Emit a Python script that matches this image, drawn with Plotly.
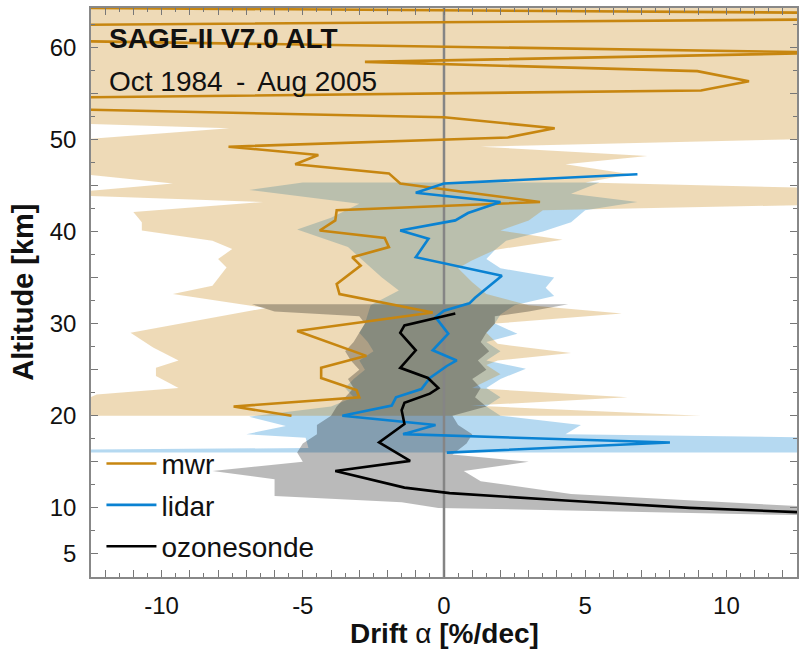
import plotly.graph_objects as go

# ---------------- data ----------------
# microwave radiometer (mwr) mean drift profile
ALT_MWR = [20.0, 21.0, 22.0, 22.8, 24.1, 25.2, 26.5, 29.2, 31.2, 33.2, 34.3, 36.3, 37.2,
           38.3, 39.3, 40.1, 41.2, 42.3, 43.2, 45.2, 46.3, 47.3, 48.3, 49.2, 50.2, 51.2,
           52.4, 53.3, 54.3, 55.3, 56.3, 57.4, 58.4, 59.4, 60.7, 61.6, 62.4, 63.0, 63.5, 64.5]
MWR = [-5.4, -7.45, -3.0, -3.1, -4.35, -4.35, -2.75, -5.2, -0.4, -3.7, -3.8, -2.95, -3.25,
       -1.95, -2.1, -4.4, -3.85, -3.8, 3.4, -1.55, -1.95, -5.27, -4.45, -7.63, 2.26, 3.92,
       0.0, -14.0, -20.0, 9.1, 10.8, 8.97, -2.8, 14.0, -14.0, -30.0, -14.0, 13.0, 25.0, -25.0]

ALT_MWR_LO = [20.0, 22.3, 23.0, 24.3, 25.2, 26.0, 27.4, 29.0, 31.7, 33.2, 34.1, 36.1, 37.0,
              38.1, 39.0, 40.1, 41.0, 42.1, 43.2, 44.0, 45.2, 46.6, 49.7, 51.2, 51.8, 65.0]
MWR_LO = [-14.0, -12.3, -9.4, -10.2, -10.2, -9.4, -10.3, -11.1, -6.3, -9.6, -8.2, -7.7, -8.0,
          -7.5, -8.2, -10.7, -10.7, -11.0, -6.4, -14.0, -9.6, -14.0, -14.0, -7.6, -14.0, -14.0]

ALT_MWR_HI = [20.0, 21.1, 22.0, 23.0, 24.5, 25.5, 26.0, 26.8, 27.8, 29.0, 30.0, 31.1, 32.0,
              33.2, 34.5, 36.0, 36.8, 38.0, 39.1, 40.1, 41.2, 42.3, 43.0, 44.6, 45.3, 46.2,
              47.3, 48.2, 49.2, 50.2, 65.0]
MWR_HI = [9.1, 0.95, 6.5, 1.0, 2.0, 1.5, 1.9, 4.5, 1.9, 1.5, 1.8, 6.3, 3.0,
          1.5, 1.0, 0.5, 0.95, 1.8, 4.2, 2.0, 3.0, 3.5, 15.0, 15.0, 5.0, 6.6,
          4.3, 7.2, 1.3, 15.0, 15.0]

# lidar
ALT_LID = [16.0, 17.1, 18.0, 19.0, 20.0, 21.1, 22.0, 22.9, 24.1, 25.4, 26.0, 27.1, 28.9,
           30.7, 31.4, 32.2, 32.8, 35.2, 37.2, 39.2, 40.1, 41.2, 42.0, 43.2, 44.2, 45.2, 46.2]
LIDAR = [0.1, 8.0, -1.45, -0.3, -3.6, -1.85, -1.7, -0.8, -0.5, 0.1, 0.45, -0.4, 0.15,
         -0.3, 0.0, 0.9, 1.1, 2.05, -1.0, -0.55, -1.55, 0.4, 0.85, 2.0, -1.0, 0.0, 6.85]

ALT_LID_LO = [16.0, 16.3, 16.5, 17.6, 18.0, 18.9, 19.9, 21.0, 22.0, 23.0, 24.0, 25.0, 26.0,
              27.0, 28.0, 29.0, 30.0, 31.0, 32.0, 33.6, 35.0, 37.2, 38.3, 40.2, 41.5, 43.0,
              44.5, 45.3]
LIDAR_LO = [-14.0, -14.0, -4.8, -4.9, -7.0, -5.6, -6.9, -4.0, -3.2, -3.5, -3.2, -2.8, -3.0,
            -2.5, -2.7, -3.0, -2.8, -2.7, -2.6, -1.6, -2.2, -3.0, -3.4, -5.2, -4.0, -3.0,
            -6.9, -5.0]

ALT_LID_HI = [16.0, 17.6, 18.0, 19.0, 20.0, 21.0, 22.0, 23.0, 24.0, 25.1, 26.0, 27.0, 28.0,
              28.9, 30.0, 31.0, 32.0, 33.0, 33.9, 35.0, 36.0, 37.0, 38.0, 39.0, 40.0, 41.0,
              42.3, 43.2, 44.1, 45.3]
LIDAR_HI = [14.0, 14.0, 4.3, 4.85, 2.0, 1.5, 2.0, 1.5, 2.0, 2.9, 1.5, 2.0, 1.5,
            2.6, 1.8, 2.0, 2.5, 3.9, 3.6, 3.9, 2.0, 1.5, 1.8, 2.2, 3.5, 4.5,
            5.0, 6.85, 4.5, 5.5]

# ozonesonde
ALT_SONDE = [9.0, 9.5, 10.0, 10.8, 11.6, 12.2, 14.0, 15.1, 17.1, 19.1, 20.6, 21.4, 22.4,
             23.0, 24.1, 25.2, 27.1, 29.0, 29.8, 31.1]
SONDE = [17.0, 12.5, 8.7, 4.3, 0.2, -1.4, -3.85, -1.2, -2.3, -1.4, -1.5, -1.4, -0.5,
         -0.2, -0.57, -1.55, -1.0, -1.55, -1.4, 0.4]

ALT_SONDE_LO = [9.0, 9.2, 9.7, 10.0, 10.6, 11.3, 13.1, 14.0, 15.0, 16.0, 17.0, 18.0, 19.0,
                20.0, 21.0, 22.0, 23.0, 24.0, 25.0, 26.0, 27.0, 28.0, 29.0, 30.0, 30.8,
                31.3, 32.1]
SONDE_LO = [16.0, 12.5, 4.0, -0.2, -1.5, -6.0, -6.0, -8.2, -5.0, -5.2, -5.0, -4.5, -4.5,
            -4.0, -3.8, -3.5, -3.2, -3.4, -3.0, -3.3, -3.5, -3.2, -3.0, -2.8, -3.0,
            -6.0, -6.8]

ALT_SONDE_HI = [9.0, 10.2, 11.5, 12.9, 14.0, 15.0, 15.8, 17.0, 18.0, 19.0, 20.0, 21.0, 22.0,
                23.0, 24.0, 25.0, 26.0, 27.0, 28.0, 29.0, 30.0, 30.8, 31.3, 32.1]
SONDE_HI = [16.0, 12.5, 4.5, 1.3, 0.7, 3.0, 0.3, 0.8, 1.0, 0.5, 0.3, 1.5, 1.1,
            1.3, 1.0, 1.5, 1.2, 1.6, 1.3, 1.5, 1.8, 1.8, 3.0, 4.4]

X_TICKS = list(range(-12, 13))
X_LABELS = [str(v) if v % 5 == 0 else "" for v in X_TICKS]
Y_TICKS = list(range(5, 65, 5))
Y_LABELS = [str(v) if (v % 10 == 0 or v == 5) else "" for v in Y_TICKS]

# ---------------- styling ----------------
MWR_C = "#C78610"
LID_C = "#0A82D2"
SON_C = "#000000"
FONT = "Liberation Sans, Arial, Helvetica, sans-serif"


def band(alt_lo, lo, alt_hi, hi):
    return list(lo) + list(hi)[::-1], list(alt_lo) + list(alt_hi)[::-1]


fig = go.Figure()

# lidar band under the mwr band, ozonesonde band on top
for (alo, lo, ahi, hi, col) in [
    (ALT_LID_LO, LIDAR_LO, ALT_LID_HI, LIDAR_HI, "rgba(10,130,210,0.30)"),
    (ALT_MWR_LO, MWR_LO, ALT_MWR_HI, MWR_HI, "rgba(199,134,16,0.30)"),
    (ALT_SONDE_LO, SONDE_LO, ALT_SONDE_HI, SONDE_HI, "rgba(0,0,0,0.27)"),
]:
    bx, by = band(alo, lo, ahi, hi)
    fig.add_trace(go.Scatter(x=bx, y=by, mode="lines", fill="toself", fillcolor=col,
                             line=dict(width=0), showlegend=False, hoverinfo="skip"))

# zero line
fig.add_trace(go.Scatter(x=[0, 0], y=[2.5, 64.25], mode="lines",
                         line=dict(color="#858585", width=2.5),
                         showlegend=False, hoverinfo="skip"))

for name, xs, ys, col, grp in [("mwr", MWR, ALT_MWR, MWR_C, "a"),
                               ("lidar", LIDAR, ALT_LID, LID_C, "b"),
                               ("ozonesonde", SONDE, ALT_SONDE, SON_C, "c")]:
    fig.add_trace(go.Scatter(x=xs, y=ys, mode="lines", name=name, legendgroup=grp,
                             line=dict(color=col, width=2.6)))

fig.update_layout(
    width=799, height=652,
    margin=dict(l=91, r=0, t=8, b=75),
    paper_bgcolor="white", plot_bgcolor="white",
    font=dict(family=FONT, size=24, color="#111111"),
    showlegend=True,
    legend=dict(x=0.0148, y=0.243, xanchor="left", yanchor="top",
                bgcolor="rgba(0,0,0,0)", font=dict(size=28, color="#111111"),
                tracegroupgap=2, itemwidth=50),
    xaxis=dict(range=[-12.5, 12.5], tickmode="array", tickvals=X_TICKS, ticktext=X_LABELS,
               ticks="inside", ticklen=7, tickcolor="#777777", tickwidth=1.2,
               minor=dict(dtick=0.5, ticks="inside", ticklen=4, tickcolor="#777777"),
               showline=True, linecolor="#888888", linewidth=1.5, mirror="ticks",
               showgrid=False, zeroline=False, ticklabelstandoff=6,
               tickfont=dict(size=24)),
    yaxis=dict(range=[2.5, 64.25], tickmode="array", tickvals=Y_TICKS, ticktext=Y_LABELS,
               ticks="inside", ticklen=7, tickcolor="#777777", tickwidth=1.2,
               minor=dict(dtick=2.5, ticks="inside", ticklen=4, tickcolor="#777777"),
               showline=True, linecolor="#888888", linewidth=1.5, mirror="ticks",
               showgrid=False, zeroline=False, ticklabelstandoff=8,
               tickfont=dict(size=24)),
    annotations=[
        dict(text="<b>SAGE-II V7.0 ALT</b>", xref="paper", yref="paper", x=0.023, y=0.947,
             xanchor="left", yanchor="middle", showarrow=False, font=dict(size=28)),
        dict(text="Oct 1984 &#8201;-&#8201; Aug 2005", xref="paper", yref="paper", x=0.022,
             y=0.870, xanchor="left", yanchor="middle", showarrow=False, font=dict(size=28)),
        dict(text="<b>Drift </b>α<b> [%/dec]</b>", xref="paper", yref="paper", x=0.5,
             y=-(633 - 577) / 569, xanchor="center", yanchor="middle", showarrow=False,
             font=dict(size=28)),
        dict(text="<b>Altitude [km]</b>", xref="paper", yref="paper",
             x=-(91 - 22) / 708, y=0.5, xanchor="center", yanchor="middle",
             showarrow=False, textangle=-90, font=dict(size=29)),
    ],
)

fig.write_html("out.html")
